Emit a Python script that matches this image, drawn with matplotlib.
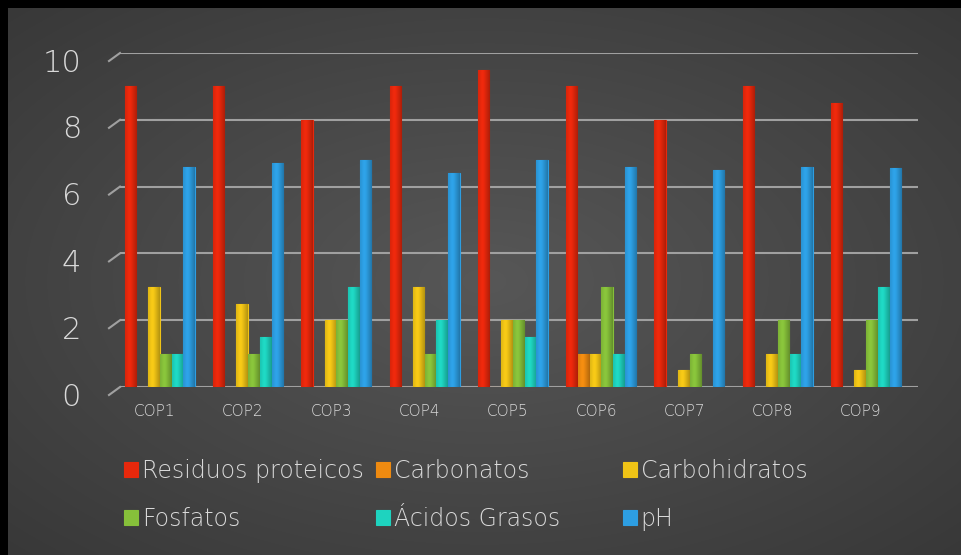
import numpy as np
import matplotlib
matplotlib.use("Agg")
import matplotlib.pyplot as plt
from matplotlib.colors import to_rgb
import matplotlib.transforms as mtransforms

categories = ["COP1", "COP2", "COP3", "COP4", "COP5", "COP6", "COP7", "COP8", "COP9"]
series_names = ["Residuos proteicos", "Carbonatos", "Carbohidratos", "Fosfatos", "Ácidos Grasos", "pH"]
residuos = [9, 9, 8, 9, 9.5, 9, 8, 9, 8.5]
carbonatos = [0, 0, 0, 0, 0, 1, 0, 0, 0]
carbohidratos = [3, 2.5, 2, 3, 2, 1, 0.5, 1, 0.5]
fosfatos = [1, 1, 2, 1, 2, 3, 1, 2, 2]
acidos = [1, 1.5, 3, 2, 1.5, 1, 0, 1, 3]
ph = [6.6, 6.7, 6.8, 6.4, 6.8, 6.6, 6.5, 6.6, 6.55]
yticks = [0, 2, 4, 6, 8, 10]

series = [residuos, carbonatos, carbohidratos, fosfatos, acidos, ph]
colors = ["#e8280c", "#ee8a10", "#f0c416", "#86c03a", "#1ed3bf", "#2d9ee2"]

plt.rcParams['font.family'] = ['DejaVu Sans']
plt.rcParams['font.weight'] = 'light'
txt = "#d9d9d9"

W, H = 961, 555
fig = plt.figure(figsize=(W / 100, H / 100), dpi=100)
fig.patch.set_facecolor("black")

# background with radial gradient (black strip on top and left)
bg = fig.add_axes([8 / W, 0, (W - 8) / W, (H - 8) / H])
bg.set_axis_off()
yy, xx = np.mgrid[0:1:300j, 0:1:500j]
r = np.sqrt(((xx - 0.5) / 0.75) ** 2 + ((yy - 0.5) / 0.75) ** 2)
r = np.clip(r / 0.95, 0, 1)
c0 = np.array(to_rgb("#575757"))
c1 = np.array(to_rgb("#383838"))
img = c0[None, None, :] * (1 - r[..., None]) + c1[None, None, :] * r[..., None]
bg.imshow(img, aspect="auto", extent=[0, 1, 0, 1], interpolation="bicubic")
bg.set_xlim(0, 1)
bg.set_ylim(0, 1)

# plot axes
y0, y10 = 387, 53
x_left, x_right = 120, 918
ax = fig.add_axes([x_left / W, (H - y0) / H, (x_right - x_left) / W, (y0 - y10) / H])
ax.set_facecolor("none")
n = len(categories)
x = np.arange(n)
bw = 0.133

t = np.linspace(0, 1, 64)
shade = 0.90 + 0.14 * np.exp(-((t - 0.38) / 0.3) ** 2) - 0.16 * t ** 4
for k, (vals, col, name) in enumerate(zip(series, colors, series_names)):
    off = (k - 2.5) * bw
    bars = ax.bar(x + off, vals, width=bw * 0.97, color=col, label=name, zorder=3,
                  edgecolor=col, linewidth=0.8)
    base = np.array(to_rgb(col))
    grad = np.clip(base[None, :] * shade[:, None], 0, 1)
    for p in bars.patches:
        bx, by = p.get_x(), p.get_y()
        bwid, bh = p.get_width(), p.get_height()
        if bh <= 0:
            continue
        im = ax.imshow(grad[None, :, :], extent=[bx, bx + bwid, by, by + bh], aspect="auto",
                       zorder=4, interpolation="bilinear")
        im.set_clip_path(p)
ax.set_xlim(-0.45, n - 1 + 0.59)
ax.set_ylim(0, 10)

ax.set_yticks(yticks)
ax.set_yticklabels([str(v) for v in yticks], fontsize=22, color=txt)
ax.grid(axis="y", color="#a0a0a0", linewidth=1.5, zorder=1)
ax.set_axisbelow(True)
ax.tick_params(axis="y", length=0, pad=28)
for lab in ax.get_yticklabels():
    lab.set_transform(lab.get_transform() + mtransforms.ScaledTranslation(0, -7 / 100, fig.dpi_scale_trans))
ax.set_xticks(x)
ax.set_xticklabels(categories, fontsize=11, color=txt)
ax.tick_params(axis="x", length=0, pad=12)
for lab in ax.get_xticklabels():
    lab.set_transform(lab.get_transform() + mtransforms.ScaledTranslation(-5 / 100, 0, fig.dpi_scale_trans))
for s in ax.spines.values():
    s.set_visible(False)

# small slanted ticks of the 3D wall
trans = mtransforms.blended_transform_factory(ax.transAxes, ax.transData)
dx = 11 / (x_right - x_left)
dy = 8 / ((y0 - y10) / 10)
for v in yticks:
    ax.plot([-dx, 0], [v - dy, v], color="#a0a0a0", lw=1.5, transform=trans, clip_on=False)

# legend in three columns
handles, labels = ax.get_legend_handles_labels()
col_x = [124, 376, 623]
for c in range(3):
    idx = [c, c + 3]
    leg = fig.legend([handles[i] for i in idx], [labels[i] for i in idx],
                     loc="upper left", bbox_to_anchor=(col_x[c] / W, (H - 459) / H),
                     frameon=False, fontsize=17, handlelength=0.6, handleheight=0.6,
                     handletextpad=0.15, labelspacing=1.0, borderpad=0, borderaxespad=0)
    for tx in leg.get_texts():
        tx.set_color(txt)

fig.savefig("out.png", dpi=100, facecolor=fig.get_facecolor())
